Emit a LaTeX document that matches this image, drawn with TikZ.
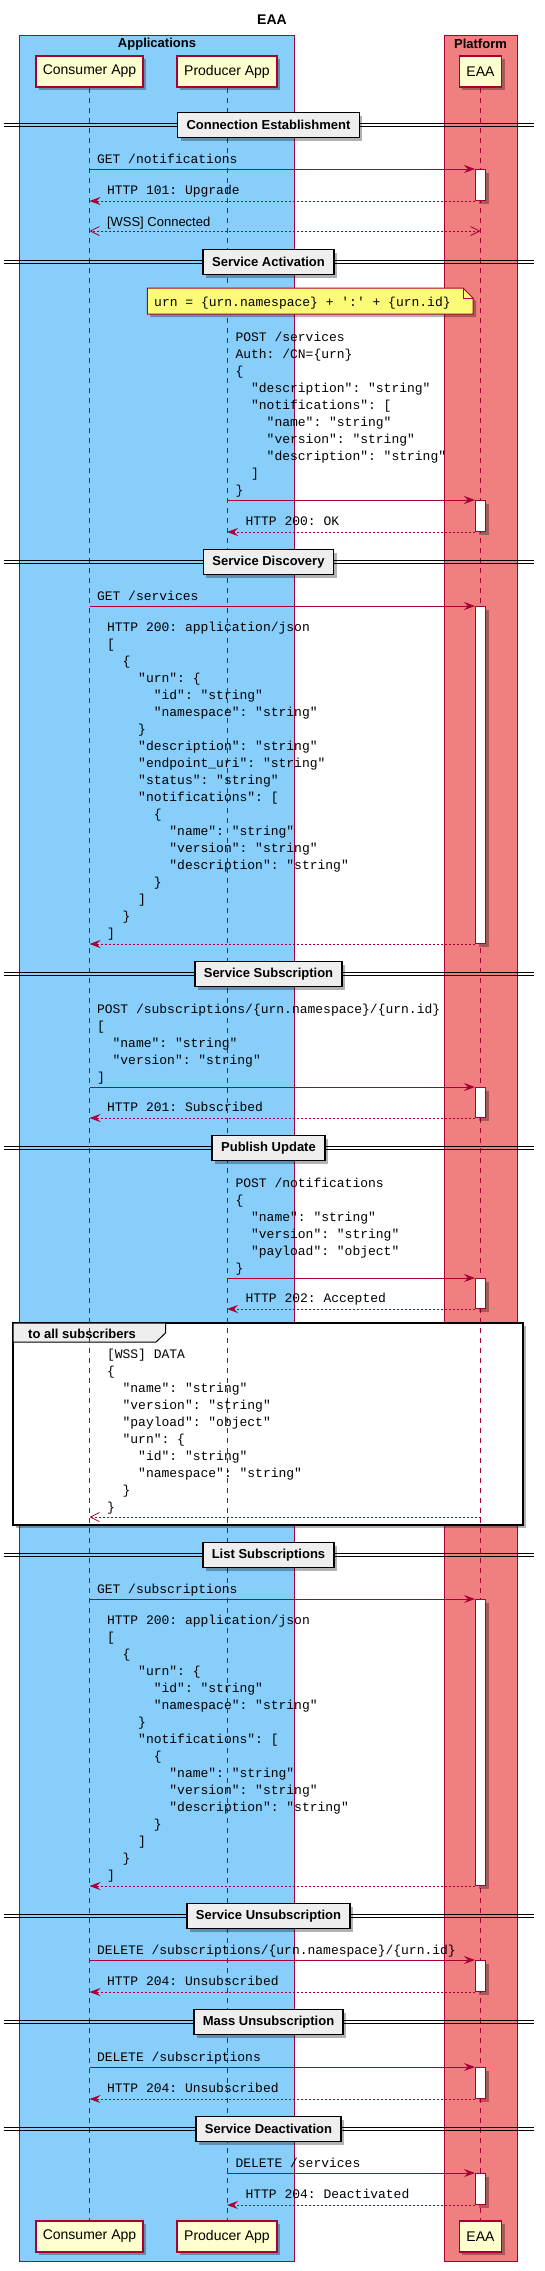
\documentclass[tikz,border=0pt]{standalone}
\usepackage{fontspec}
\setmainfont{Liberation Sans}
\setsansfont{Liberation Sans}
\setmonofont{Liberation Mono}
\usepackage{xcolor}
\usepackage{tikz}
\usetikzlibrary{arrows.meta}
\usetikzlibrary{shadows}
\definecolor{seqline}{HTML}{A80036}
\definecolor{partfill}{HTML}{FEFECE}
\definecolor{appsblue}{HTML}{87CEFA}
\definecolor{platcoral}{HTML}{F08080}
\definecolor{notefill}{HTML}{FBFB77}
\definecolor{sepfill}{HTML}{EEEEEE}
\newcommand{\lvl}[1]{\hspace*{\dimexpr1.2em*#1\relax}}

\begin{document}
\begin{tikzpicture}[x=1pt,y=-1pt,line width=1pt,
  seqhead/.tip={Stealth[length=11pt,width=8pt,inset=4pt]},
  openbarb/.tip={Straight Barb[length=9pt,width=9pt,line width=0.8pt]},
  softshadow/.style={drop shadow={shadow xshift=3pt,shadow yshift=-3pt,fill=black,opacity=0.3}},
  participant/.style={draw=seqline,line width=1.5pt,fill=partfill,minimum height=31pt,inner xsep=7pt,font=\fontsize{14}{16}\selectfont,softshadow},
  lifeline/.style={seqline,dash pattern=on 5pt off 5pt},
  sepline/.style={black,line width=1pt},
  sepbox/.style={draw=black,line width=1.5pt,fill=sepfill,minimum height=25pt,inner xsep=9pt,font=\bfseries\fontsize{13}{15}\selectfont,softshadow},
  actbar/.style={draw=seqline,fill=white,minimum width=10pt,inner sep=0pt,softshadow},
  call/.style={seqline,-seqhead},
  reply/.style={seqline,dash pattern=on 2pt off 2pt,-seqhead},
  push/.style={seqline,dash pattern=on 2pt off 2pt,-openbarb},
  msg/.style={anchor=base west,inner sep=0pt,font=\ttfamily\fontsize{13}{17}\selectfont},
  sanslabel/.style={anchor=base west,inner sep=0pt,font=\fontsize{13}{15}\selectfont},
  boldlabel/.style={inner sep=0pt,font=\bfseries\fontsize{13}{15}\selectfont}
]
\fill[white] (0,0) rectangle (544,2271);
\useasboundingbox (0,0) rectangle (544,2271);

%% boxes round the participants
\draw[seqline,fill=appsblue] (19.8,35) rectangle (294,2261);
\draw[seqline,fill=platcoral] (444.6,35) rectangle (517,2261);
\node[font=\bfseries\fontsize{14}{16}\selectfont] (title) at (272,20) {EAA};
\node[boldlabel] (apps) at (157,44) {Applications};
\node[boldlabel] (plat) at (480.5,44) {Platform};

\node[participant] (cons) at (89.5,71.5) {Consumer App};
\node[participant] (prod) at (227,71.5) {Producer App};
\node[participant] (eaa) at (480.5,71.5) {EAA};
\node[participant] (cons-bot) at (89.5,2236.5) {Consumer App};
\node[participant] (prod-bot) at (227,2236.5) {Producer App};
\node[participant] (eaa-bot) at (480.5,2236.5) {EAA};

%% group frame
\draw[black,line width=2pt,fill=white,softshadow] (13.2,1323) rectangle (523,1525);
\draw[black,fill=sepfill] (13.2,1323) -- (165.5,1323) -- (165.5,1333) -- (156,1342) -- (13.2,1342) -- cycle;
\node[boldlabel,anchor=base west] (grp) at (27.7,1338) {to all subscribers};

\foreach \p in {cons,prod,eaa}
    \draw[lifeline] (\p.south) -- (\p-bot.north);

%% sections
\foreach \y/\t [count=\i] in {125/Connection Establishment, 262/Service Activation, 562/Service Discovery, 974/Service Subscription, 1148/Publish Update, 1555/List Subscriptions, 1916/Service Unsubscription, 2022/Mass Unsubscription, 2129/Service Deactivation}
{
    \draw[sepline] (3.5,{\y-1.7}) -- (534,{\y-1.7}) (3.5,{\y+1.7}) -- (534,{\y+1.7});
    \node[sepbox] (sep\i) at (268.5,\y) {\t};
}

%% note
\draw[seqline,fill=notefill,softshadow] (147.4,288) -- (463,288) -- (473,298) -- (473,314) -- (147.4,314) -- cycle;
\draw[seqline] (463,288) -- (463,298) -- (473,298);
\node[msg] (note) at (153.7,306) {urn = \{urn.namespace\} + ':' + \{urn.id\}};

%% activations
\foreach \t/\h [count=\i] in {169/31, 500/31, 606/337, 1087/30, 1278/30, 1599/286, 1960/31, 2067/31, 2173/31}
    \node[actbar,minimum height=\h*1pt,anchor=north] (a\i) at (eaa |- 0,\t) {};

%% messages
\draw[call] (cons |- a1.north) -- (a1.north west);
\draw[reply] (a1.south west) -- (cons |- a1.south);
\node[msg] (m1) at (96.5,163) {GET /notifications};
\node[msg] (r1) at (106.5,194) {HTTP 101: Upgrade};

\coordinate (wss) at (0,231);
\draw[push,openbarb-openbarb] (eaa |- wss) -- (cons |- wss);
\node[sanslabel] (w1) at (106.5,226) {[WSS] Connected};

\draw[call] (prod |- a2.north) -- (a2.north west);
\draw[reply] (a2.south west) -- (prod |- a2.south);
\node[msg] (m2) at (235,494) {\begin{tabular}[b]{@{}l@{}}
POST /services\\
Auth: /CN=\{urn\}\\
\{\\
\lvl1"description": "string"\\
\lvl1"notifications": [\\
\lvl2"name": "string"\\
\lvl2"version": "string"\\
\lvl2"description": "string"\\
\lvl1]\\
\}\end{tabular}};
\node[msg] (r2) at (245,525) {HTTP 200: OK};

\draw[call] (cons |- a3.north) -- (a3.north west);
\draw[reply] (a3.south west) -- (cons |- a3.south);
\node[msg] (m3) at (96.5,600) {GET /services};
\node[msg] (r3) at (106.5,937) {\begin{tabular}[b]{@{}l@{}}
HTTP 200: application/json\\{}[\\
\lvl1\{\\
\lvl2"urn": \{\\
\lvl3"id": "string"\\
\lvl3"namespace": "string"\\
\lvl2\}\\
\lvl2"description": "string"\\
\lvl2"endpoint\_uri": "string"\\
\lvl2"status": "string"\\
\lvl2"notifications": [\\
\lvl3\{\\
\lvl4"name": "string"\\
\lvl4"version": "string"\\
\lvl4"description": "string"\\
\lvl3\}\\
\lvl2]\\
\lvl1\}\\
]\end{tabular}};

\draw[call] (cons |- a4.north) -- (a4.north west);
\draw[reply] (a4.south west) -- (cons |- a4.south);
\node[msg] (m4) at (96.5,1081) {\begin{tabular}[b]{@{}l@{}}
POST /subscriptions/\{urn.namespace\}/\{urn.id\}\\{}[\\
\lvl1"name": "string"\\
\lvl1"version": "string"\\
]\end{tabular}};
\node[msg] (r4) at (106.5,1111) {HTTP 201: Subscribed};

\draw[call] (prod |- a5.north) -- (a5.north west);
\draw[reply] (a5.south west) -- (prod |- a5.south);
\node[msg] (m5) at (235,1272) {\begin{tabular}[b]{@{}l@{}}
POST /notifications\\
\{\\
\lvl1"name": "string"\\
\lvl1"version": "string"\\
\lvl1"payload": "object"\\
\}\end{tabular}};
\node[msg] (r5) at (245,1302) {HTTP 202: Accepted};

\coordinate (data) at (0,1517);
\draw[push] (eaa |- data) -- (cons |- data);
\node[msg] (d1) at (106.5,1511) {\begin{tabular}[b]{@{}l@{}}
{}[WSS] DATA\\
\{\\
\lvl1"name": "string"\\
\lvl1"version": "string"\\
\lvl1"payload": "object"\\
\lvl1"urn": \{\\
\lvl2"id": "string"\\
\lvl2"namespace": "string"\\
\lvl1\}\\
\}\end{tabular}};

\draw[call] (cons |- a6.north) -- (a6.north west);
\draw[reply] (a6.south west) -- (cons |- a6.south);
\node[msg] (m6) at (96.5,1593) {GET /subscriptions};
\node[msg] (r6) at (106.5,1879) {\begin{tabular}[b]{@{}l@{}}
HTTP 200: application/json\\{}[\\
\lvl1\{\\
\lvl2"urn": \{\\
\lvl3"id": "string"\\
\lvl3"namespace": "string"\\
\lvl2\}\\
\lvl2"notifications": [\\
\lvl3\{\\
\lvl4"name": "string"\\
\lvl4"version": "string"\\
\lvl4"description": "string"\\
\lvl3\}\\
\lvl2]\\
\lvl1\}\\
]\end{tabular}};

\draw[call] (cons |- a7.north) -- (a7.north west);
\draw[reply] (a7.south west) -- (cons |- a7.south);
\node[msg] (m7) at (96.5,1954) {DELETE /subscriptions/\{urn.namespace\}/\{urn.id\}};
\node[msg] (r7) at (106.5,1985) {HTTP 204: Unsubscribed};

\draw[call] (cons |- a8.north) -- (a8.north west);
\draw[reply] (a8.south west) -- (cons |- a8.south);
\node[msg] (m8) at (96.5,2061) {DELETE /subscriptions};
\node[msg] (r8) at (106.5,2092) {HTTP 204: Unsubscribed};

\draw[call] (prod |- a9.north) -- (a9.north west);
\draw[reply] (a9.south west) -- (prod |- a9.south);
\node[msg] (m9) at (235,2167) {DELETE /services};
\node[msg] (r9) at (245,2198) {HTTP 204: Deactivated};
\end{tikzpicture}
\end{document}
